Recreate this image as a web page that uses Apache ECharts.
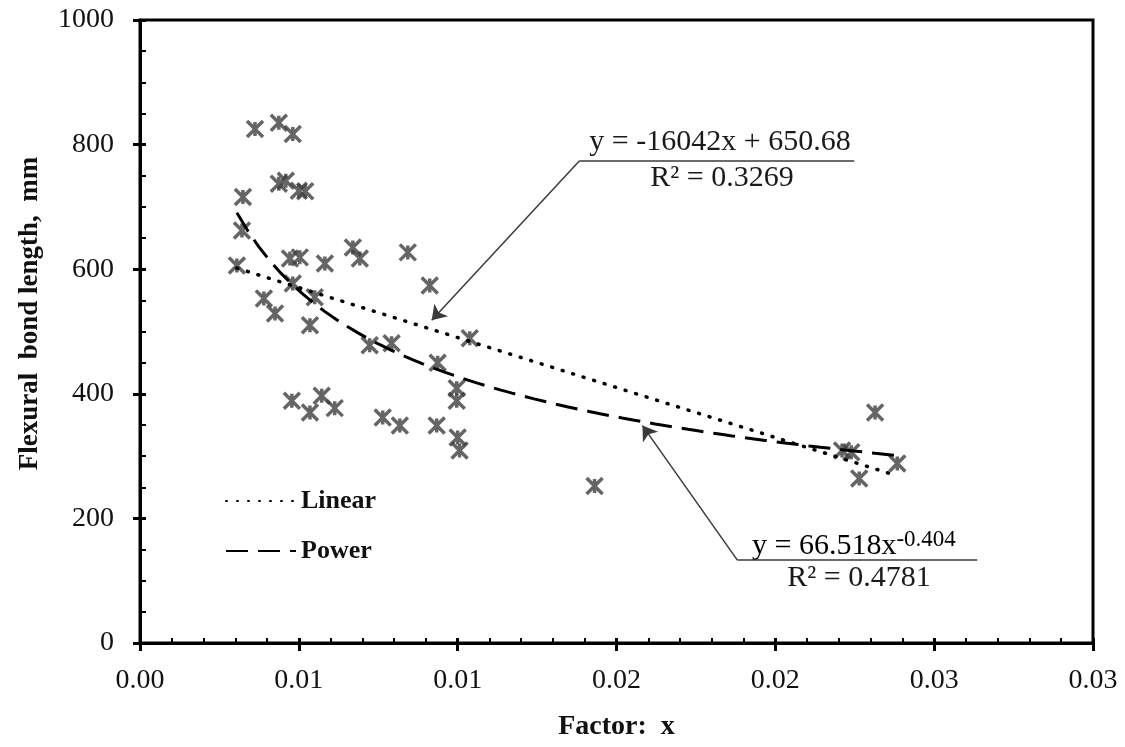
<!DOCTYPE html>
<html>
<head>
<meta charset="utf-8">
<script src="https://cdn.jsdelivr.net/npm/echarts@6/dist/echarts.min.js"></script>
<style>
  html, body { margin: 0; padding: 0; background: #fff; }
  #main { width: 1125px; height: 747px; }
</style>
</head>
<body>
<div id="main"></div>
<script>
// measured points, factor x vs flexural bond length (mm)
var factorX = [0.00305, 0.00321, 0.00324, 0.00362, 0.00437, 0.00481, 0.00437, 0.00459, 0.00500, 0.00520,
    0.00390, 0.00425, 0.00472, 0.00503, 0.00582, 0.00670, 0.00692, 0.00843, 0.00912, 0.00481,
    0.00550, 0.00535, 0.01038, 0.00723, 0.00792, 0.00937, 0.00997, 0.00997, 0.00478, 0.00535,
    0.00572, 0.00613, 0.00764, 0.00818, 0.00934, 0.01000, 0.01006, 0.01431, 0.02314, 0.02210,
    0.02239, 0.02264, 0.02384];
var bondLength = [606, 662, 716, 825, 835, 817, 737, 742, 726, 725,
    553, 529, 617, 619, 609, 635, 617, 627, 574, 577,
    555, 510, 489, 478, 481, 450, 409, 389, 389, 370,
    397, 377, 362, 349, 349, 330, 309, 252, 370, 309,
    306, 264, 288];

// trendline equations as printed on the chart
var linearCoef = [-16042, 650.68];   // y = a*x + b
var powerCoef = [66.518, -0.404];    // y = a*x^b
var legendNames = ['Linear', 'Power'];

var xTickLabels = ['0.00', '0.01', '0.01', '0.02', '0.02', '0.03', '0.03'];
var yTickLabels = ['0', '200', '400', '600', '800', '1000'];

(function () {
    var dom = document.getElementById('main');
    var myChart = echarts.init(dom);
    var font = '"Liberation Serif", "Times New Roman", serif';
    var ink = '#000';
    var textInk = '#111';

    var points = factorX.map(function (x, i) { return [x, bondLength[i]]; });
    var xMin = Math.min.apply(null, factorX);
    var xMax = Math.max.apply(null, factorX);

    // trendlines over the range of the data
    var linearLine = [xMin, xMax].map(function (x) {
        return [x, linearCoef[0] * x + linearCoef[1]];
    });
    var powerLine = [];
    for (var k = 0; k <= 60; k++) {
        var x = xMin + (xMax - xMin) * k / 60;
        powerLine.push([x, powerCoef[0] * Math.pow(x, powerCoef[1])]);
    }

    var star = 'path://M0,0L16,16M16,0L0,16M8,1L8,15';

    var option = {
        animation: false,
        backgroundColor: '#fff',
        textStyle: { fontFamily: font },
        grid: {
            left: 140, right: 32, top: 20, bottom: 104,
            show: true, borderColor: ink, borderWidth: 3, backgroundColor: 'transparent'
        },
        legend: {
            data: legendNames,
            orient: 'vertical',
            left: 220, top: 483,
            itemWidth: 70, itemHeight: 14, itemGap: 24,
            itemStyle: { color: 'rgba(0,0,0,0)', borderWidth: 0 },
            textStyle: { fontFamily: font, fontSize: 26, fontWeight: 'bold', color: textInk },
            selectedMode: false
        },
        xAxis: [{
            type: 'value', min: 0, max: 0.03, interval: 0.005,
            name: 'Factor:  x', nameLocation: 'middle', nameGap: 70,
            nameTextStyle: { fontFamily: font, fontSize: 28, fontWeight: 'bold', color: textInk },
            axisLine: { lineStyle: { color: ink, width: 3 } },
            axisTick: { show: true, inside: false, length: 8, lineStyle: { color: ink, width: 3 } },
            axisLabel: {
                fontFamily: font, fontSize: 28, color: textInk, margin: 24,
                formatter: function (v) { return xTickLabels[Math.round(v / 0.005)]; }
            },
            splitLine: { show: false }
        }, {
            // overlay: inside major + minor ticks
            type: 'value', min: 0, max: 0.03, interval: 0.005, position: 'bottom',
            axisLine: { show: false },
            axisTick: { show: true, inside: true, length: 5, lineStyle: { color: ink, width: 3 } },
            minorTick: { show: true, splitNumber: 5, length: 5, lineStyle: { color: ink, width: 2 } },
            axisLabel: { show: false },
            splitLine: { show: false }
        }],
        yAxis: [{
            type: 'value', min: 0, max: 1000, interval: 200,
            name: 'Flexural  bond length,  mm', nameLocation: 'middle', nameGap: 96,
            nameTextStyle: {
                fontFamily: font, fontSize: 27, fontWeight: 'bold', color: textInk,
                padding: [0, 0, 0, 36]
            },
            axisLine: { show: true, lineStyle: { color: ink, width: 3 } },
            axisTick: { show: true, inside: false, length: 7, lineStyle: { color: ink, width: 3 } },
            axisLabel: {
                fontFamily: font, fontSize: 28, color: textInk, margin: 26,
                formatter: function (v) { return yTickLabels[Math.round(v / 200)]; }
            },
            splitLine: { show: false }
        }, {
            type: 'value', min: 0, max: 1000, interval: 200, position: 'left',
            axisLine: { show: false },
            axisTick: { show: true, inside: true, length: 6, lineStyle: { color: ink, width: 3 } },
            minorTick: { show: true, splitNumber: 4, length: 6, lineStyle: { color: ink, width: 2 } },
            axisLabel: { show: false },
            splitLine: { show: false }
        }],
        series: [{
            name: 'data',
            type: 'scatter',
            data: points,
            symbol: star,
            symbolSize: 16,
            itemStyle: { color: 'rgba(0,0,0,0)', borderColor: '#3f3f3f', borderWidth: 3.5 },
            z: 3
        }, {
            name: 'Linear',
            type: 'line',
            data: linearLine,
            showSymbol: false, symbol: 'none',
            itemStyle: { color: '#000' },
            lineStyle: { color: '#000', width: 3.5, type: [1, 10], cap: 'round' },
            z: 4
        }, {
            name: 'Power',
            type: 'line',
            data: powerLine,
            showSymbol: false, symbol: 'none',
            itemStyle: { color: '#000' },
            lineStyle: { color: '#000', width: 3, type: [22, 10] },
            z: 4,
            // callout arrows and underlines for the equation labels
            markLine: {
                silent: true,
                animation: false,
                label: { show: false },
                lineStyle: { color: '#3a3a3a', width: 1.5, type: 'solid' },
                data: [
                    [{ coord: [0.013836, 774], symbol: 'none' }, { coord: [0.009182, 518], symbol: 'arrow', symbolSize: 14 }],
                    [{ coord: [0.013836, 774], symbol: 'none' }, { coord: [0.022484, 774], symbol: 'none' }],
                    [{ coord: [0.018805, 133], symbol: 'none' }, { coord: [0.015818, 349], symbol: 'arrow', symbolSize: 14 }],
                    [{ coord: [0.018805, 133], symbol: 'none' }, { coord: [0.026352, 133], symbol: 'none' }]
                ]
            }
        }],
        graphic: [{
            type: 'text', x: 720, y: 142,
            style: { text: 'y = -16042x + 650.68', fontFamily: font, fontSize: 30, fill: '#1a1a1a', align: 'center', verticalAlign: 'middle' }
        }, {
            type: 'text', x: 722, y: 178,
            style: { text: 'R² = 0.3269', fontFamily: font, fontSize: 30, fill: '#1a1a1a', align: 'center', verticalAlign: 'middle' }
        }, {
            type: 'text', x: 752, y: 546,
            style: {
                text: '{a|y = 66.518x}{s|-0.404}',
                fontFamily: font, align: 'left', verticalAlign: 'middle',
                rich: {
                    a: { fontFamily: font, fontSize: 30, color: '#1a1a1a' },
                    s: { fontFamily: font, fontSize: 23, color: '#1a1a1a', verticalAlign: 'top', padding: [0, 0, 12, 0] }
                }
            }
        }, {
            type: 'text', x: 859, y: 578,
            style: { text: 'R² = 0.4781', fontFamily: font, fontSize: 30, fill: '#1a1a1a', align: 'center', verticalAlign: 'middle' }
        }]
    };

    myChart.setOption(option);
})();
</script>
</body>
</html>
